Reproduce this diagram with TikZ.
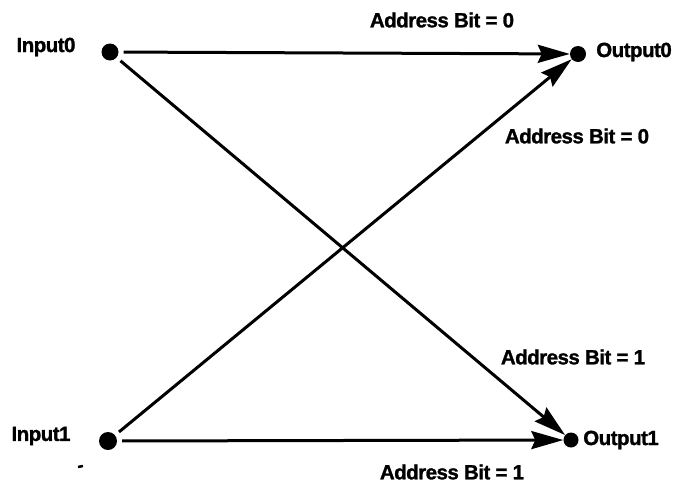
\documentclass[tikz,border=0pt]{standalone}
\usepackage{fontspec}
\setmainfont{Liberation Sans}[BoldFeatures={FakeBold=1.3,LetterSpace=-2.5}]
\usetikzlibrary{arrows.meta}
\begin{document}
\begin{tikzpicture}[x=1pt,y=-1pt,
  dot/.style={circle,fill=black,inner sep=0pt,minimum size=17pt},
  lbl/.style={inner sep=0pt,font=\fontsize{20.5}{23}\selectfont\bfseries},
  conn/.style={line width=3pt,-{Stealth[length=32pt,width=18pt,inset=4pt]},shorten <=5pt}]
\useasboundingbox (0,0) rectangle (680,488);
\node[dot] (in0) at (110,52) {};
\node[dot,minimum size=16pt] (out0) at (578,54) {};
\node[dot,minimum size=18pt] (in1) at (108,441) {};
\node[dot,minimum size=15pt] (out1) at (571,440) {};
\node[lbl] (lin0) at (46,47) {Input0};
\node[lbl] (lout0) at (634,52) {Output0};
\node[lbl] (lin1) at (41,436) {Input1};
\node[lbl] (lout1) at (621,440) {Output1};
\node[lbl] (a00) at (442,20) {Address Bit = 0};
\node[lbl] (a10) at (577,136) {Address Bit = 0};
\node[lbl] (a01) at (573,357) {Address Bit = 1};
\node[lbl] (a11) at (452,472) {Address Bit = 1};
\draw[conn] (in0) -- (out0);
\draw[conn] (in0) -- (out1);
\draw[conn] (in1) -- (out0);
\draw[conn] (in1) -- (out1);
\coordinate (d1) at (78,467);
\coordinate (d2) at (83,466);
\draw[line width=2.5pt] (d1) -- (d2);
\end{tikzpicture}
\end{document}
